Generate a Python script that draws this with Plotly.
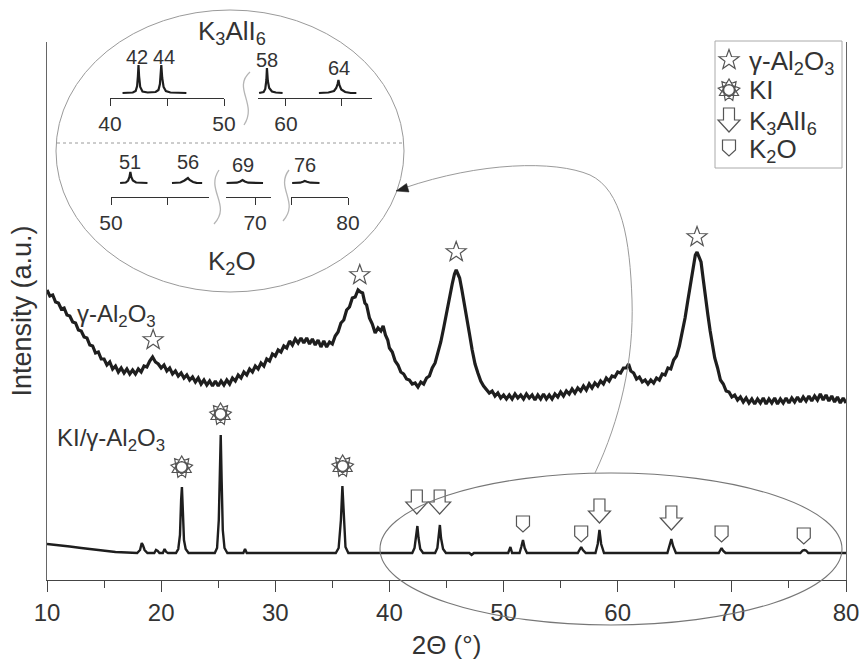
import math
import plotly.graph_objects as go

# ---------------- data ----------------
al2o3_x = [10.0, 10.25, 10.5, 10.75, 11.0, 11.25, 11.5, 11.75, 12.0, 12.25, 12.5, 12.75, 13.0, 13.25, 13.5, 13.75,
           14.0, 14.25, 14.5, 14.75, 15.0, 15.25, 15.5, 15.75, 16.0, 16.25, 16.5, 16.75, 17.0, 17.25, 17.5, 17.75,
           18.0, 18.25, 18.5, 18.75, 19.0, 19.25, 19.5, 19.75, 20.0, 20.25, 20.5, 20.75, 21.0, 21.25, 21.5, 21.75,
           22.0, 22.25, 22.5, 22.75, 23.0, 23.25, 23.5, 23.75, 24.0, 24.25, 24.5, 24.75, 25.0, 25.25, 25.5, 25.75,
           26.0, 26.25, 26.5, 26.75, 27.0, 27.25, 27.5, 27.75, 28.0, 28.25, 28.5, 28.75, 29.0, 29.25, 29.5, 29.75,
           30.0, 30.25, 30.5, 30.75, 31.0, 31.25, 31.5, 31.75, 32.0, 32.25, 32.5, 32.75, 33.0, 33.25, 33.5, 33.75,
           34.0, 34.25, 34.5, 34.75, 35.0, 35.25, 35.5, 35.75, 36.0, 36.25, 36.5, 36.75, 37.0, 37.25, 37.45, 37.65,
           37.85, 38.0, 38.25, 38.5, 38.75, 39.0, 39.25, 39.45, 39.65, 39.85, 40.0, 40.25, 40.5, 40.75, 41.0, 41.25,
           41.5, 41.75, 42.0, 42.25, 42.5, 42.75, 43.0, 43.25, 43.5, 43.75, 44.0, 44.25, 44.5, 44.75, 45.0, 45.25,
           45.5, 45.7, 45.85, 46.0, 46.15, 46.35, 46.55, 46.75, 47.0, 47.25, 47.5, 47.75, 48.0, 48.25, 48.5, 48.75,
           49.0, 49.25, 49.5, 49.75, 50.0, 50.25, 50.5, 50.75, 51.0, 51.25, 51.5, 51.75, 52.0, 52.25, 52.5, 52.75,
           53.0, 53.25, 53.5, 53.75, 54.0, 54.25, 54.5, 54.75, 55.0, 55.25, 55.5, 55.75, 56.0, 56.25, 56.5, 56.75,
           57.0, 57.25, 57.5, 57.75, 58.0, 58.25, 58.5, 58.75, 59.0, 59.25, 59.5, 59.75, 60.0, 60.25, 60.5, 60.75,
           60.95, 61.15, 61.4, 61.65, 61.9, 62.15, 62.4, 62.65, 62.9, 63.15, 63.4, 63.65, 63.9, 64.15, 64.4, 64.65,
           64.9, 65.15, 65.4, 65.65, 65.9, 66.15, 66.4, 66.6, 66.8, 66.95, 67.1, 67.3, 67.5, 67.7, 67.9, 68.1,
           68.3, 68.5, 68.75, 69.0, 69.25, 69.5, 69.75, 70.0, 70.25, 70.5, 70.75, 71.0, 71.25, 71.5, 71.75, 72.0,
           72.25, 72.5, 72.75, 73.0, 73.25, 73.5, 73.75, 74.0, 74.25, 74.5, 74.75, 75.0, 75.25, 75.5, 75.75, 76.0,
           76.25, 76.5, 76.75, 77.0, 77.25, 77.5, 77.75, 78.0, 78.25, 78.5, 78.75, 79.0, 79.25, 79.5, 79.75, 80.0]
al2o3_y = [290, 284, 285, 278, 277, 271, 272, 265, 264, 258, 257, 250, 249, 243, 242, 235,
           234, 227, 228, 221, 221, 215, 218, 211, 214, 208, 212, 207, 211, 206, 210, 206,
           211, 208, 214, 213, 219, 223, 218, 216, 212, 215, 209, 212, 206, 209, 204, 207,
           202, 205, 200, 203, 198, 202, 196, 200, 195, 199, 194, 199, 194, 199, 195, 200,
           196, 202, 199, 205, 202, 208, 205, 211, 208, 214, 211, 217, 214, 221, 219, 226,
           224, 230, 228, 234, 232, 239, 235, 241, 237, 242, 237, 242, 236, 241, 235, 240,
           233, 239, 233, 238, 236, 244, 248, 257, 260, 270, 273, 282, 283, 290, 288, 287,
           277, 275, 262, 256, 247, 252, 249, 254, 245, 240, 232, 228, 219, 215, 208, 206,
           201, 200, 196, 197, 193, 198, 196, 202, 204, 212, 217, 227, 238, 252, 268, 284,
           296, 306, 310, 306, 302, 290, 278, 262, 247, 230, 216, 207, 199, 194, 191, 187,
           189, 184, 187, 182, 185, 181, 185, 181, 186, 182, 185, 181, 186, 182, 185, 180,
           185, 181, 186, 181, 185, 181, 186, 183, 188, 184, 189, 186, 191, 187, 192, 189,
           194, 190, 196, 192, 197, 194, 199, 196, 202, 199, 204, 203, 208, 207, 212, 212,
           216, 209, 207, 201, 203, 198, 200, 196, 200, 197, 202, 200, 206, 205, 212, 211,
           220, 224, 234, 247, 262, 280, 298, 314, 325, 328, 324, 318, 300, 285, 265, 249,
           235, 222, 212, 200, 196, 189, 188, 183, 185, 180, 183, 178, 182, 177, 181, 176,
           181, 177, 182, 176, 181, 177, 182, 176, 181, 177, 182, 177, 182, 178, 183, 178,
           183, 179, 184, 179, 184, 180, 186, 180, 185, 179, 184, 178, 183, 177, 182, 177]

ki_x = [10.0, 11.0, 12.0, 13.0, 14.0, 15.0, 16.0, 17.0, 17.9, 18.15, 18.3, 18.4, 18.55, 18.8,
        19.4, 19.55, 19.7, 19.85, 20.15, 20.3, 20.45, 20.6,
        21.3, 21.5, 21.65, 21.75, 21.82, 21.9, 22.0, 22.15, 22.4,
        24.7, 24.9, 25.05, 25.15, 25.22, 25.3, 25.4, 25.55, 25.8,
        27.2, 27.35, 27.5,
        35.3, 35.55, 35.75, 35.88, 36.0, 36.15, 36.4,
        42.0, 42.2, 42.35, 42.45, 42.55, 42.7, 42.95,
        44.0, 44.2, 44.35, 44.42, 44.52, 44.7, 44.95,
        47.0, 47.2, 47.4,
        50.4, 50.6, 50.75,
        51.4, 51.55, 51.7, 51.85, 52.05,
        56.5, 56.7, 56.8, 56.95, 57.2,
        58.05, 58.25, 58.4, 58.55, 58.8,
        64.35, 64.55, 64.7, 64.85, 65.1,
        68.85, 69.0, 69.1, 69.25, 69.45,
        76.0, 76.2, 76.35, 76.5, 76.7,
        80.0]
ki_y = [36, 35, 33.5, 32, 30.5, 29, 28, 27.5, 27, 30, 37, 35, 30, 27,
        27, 30, 29, 27, 27, 31, 28, 27,
        27, 31, 45, 80, 93, 70, 40, 31, 27,
        27, 32, 60, 110, 145, 100, 50, 32, 27,
        27, 31, 27,
        27, 32, 60, 94, 60, 33, 27,
        27, 32, 45, 54, 42, 31, 27,
        27, 32, 46, 55, 42, 31, 27,
        27, 25, 27,
        27, 33, 27,
        27, 33, 40, 32, 27,
        27, 31, 33, 30, 27,
        27, 36, 50, 36, 27,
        27, 35, 41, 34, 27,
        27, 30, 32, 29, 27,
        27, 29.5, 30, 29.5, 27,
        27]

# phase markers: peak position and marker height
al2o3_mark_x = [19.3, 37.4, 45.85, 66.95]
al2o3_mark_y = [240, 305, 328, 343]
ki_mark_x = [21.8, 25.2, 35.9]
ki_mark_y = [113, 166, 114]
k3ali6_mark_x = [42.4, 44.4, 58.4, 64.7]
k3ali6_mark_y = [78, 78, 69, 62]
k2o_mark_x = [51.7, 56.8, 69.1, 76.3]
k2o_mark_y = [56, 46, 46, 44]

x_ticks = [10, 20, 30, 40, 50, 60, 70, 80]
x_minor = [15, 25, 35, 45, 55, 65, 75]

# inset: K3AlI6 (top) segments
ins_a1_x = [41.1, 42.0, 42.25, 42.38, 42.45, 42.5, 42.55, 42.65, 42.85, 43.3, 44.0, 44.25, 44.38, 44.45,
            44.5, 44.58, 44.7, 44.9, 45.3, 46.7]
ins_a1_y = [5, 5.5, 7, 12, 22, 33, 22, 11, 6.5, 5.5, 6, 8, 14, 23, 33, 20, 11, 7, 5.5, 5]
ins_a2_x = [57.6, 58.0, 58.15, 58.25, 58.3, 58.38, 58.5, 58.75, 59.1, 59.7]
ins_a2_y = [5, 6, 9, 18, 30, 17, 10, 6.5, 5.5, 5]
ins_a3_x = [62.95, 63.8, 64.3, 64.5, 64.62, 64.7, 64.78, 64.95, 65.3, 65.8, 66.3]
ins_a3_y = [5, 5.5, 7, 10, 14, 18, 13, 8.5, 6, 5, 5]
# inset: K2O (bottom) segments
ins_b1_x = [50.8, 51.3, 51.5, 51.62, 51.7, 51.78, 51.92, 52.2, 53.2]
ins_b1_y = [14, 14.5, 16.5, 20, 25, 20, 16.5, 14.5, 14]
ins_b2_x = [55.35, 56.1, 56.45, 56.65, 56.75, 56.9, 57.2, 57.5, 58.0]
ins_b2_y = [14, 14.5, 16.5, 18.5, 19, 17, 15, 14.2, 14]
ins_b3_x = [67.5, 68.4, 68.7, 68.9, 69.1, 69.4, 70.7]
ins_b3_y = [14, 14.3, 15.5, 17, 15.5, 14.3, 14]
ins_b4_x = [75.1, 75.8, 76.05, 76.2, 76.4, 76.7, 77.5]
ins_b4_y = [14, 14.3, 15.3, 16, 15.2, 14.3, 14]

# ---------------- layout helpers ----------------
W, H = 866, 671
PL, PR, PT, PB = 47, 846, 42, 580


def px(x):
    return (x - PL) / (PR - PL)


def py(y):
    return (PB - y) / (PB - PT)


def P(x, y):
    return f"{px(x):.5f},{py(y):.5f}"


SANS = "Liberation Sans, Arial, sans-serif"
TXT = "#333333"
SYM = "#555555"


def star_path(ro=10.5, ri=4.3, n=5):
    pts = []
    for k in range(2 * n):
        r = ro if k % 2 == 0 else ri
        a = math.pi / 2 + k * math.pi / n
        pts.append(f"{r*math.cos(a):.2f},{r*math.sin(a):.2f}")
    return "M" + "L".join(pts) + "Z"


def ki_path(r=11.0, rc=5.3):
    parts = []
    for rot in (0, 40, 80):
        pts = []
        for k in range(3):
            a = math.radians(90 + rot + 120 * k)
            pts.append(f"{r*math.cos(a):.2f},{r*math.sin(a):.2f}")
        parts.append("M" + "L".join(pts) + "Z")
    pts = []
    for k in range(24):
        a = 2 * math.pi * k / 24
        pts.append(f"{rc*math.cos(a):.2f},{rc*math.sin(a):.2f}")
    parts.append("M" + "L".join(pts) + "Z")
    return " ".join(parts)


ARROW = "M-5.5,12L5.5,12L5.5,0L11,0L0,-12L-11,0L-5.5,0Z"
HOUSE = "M-6.5,8L6.5,8L6.5,-2L0,-8L-6.5,-2Z"


def sym_shape(path, xa, ya, ref=("x", "y")):
    return dict(type="path", path=path, xref=ref[0], yref=ref[1], xsizemode="pixel", ysizemode="pixel",
                xanchor=xa, yanchor=ya, line=dict(color=SYM, width=1.2), fillcolor="rgba(255,255,255,0)",
                layer="above")


fig = go.Figure()

fig.add_trace(go.Scatter(x=al2o3_x, y=al2o3_y, mode="lines", line=dict(color="#1e1e1e", width=3.2),
                         name="γ-Al2O3", hoverinfo="skip"))
fig.add_trace(go.Scatter(x=ki_x, y=ki_y, mode="lines", line=dict(color="#1e1e1e", width=2.4),
                         name="KI/γ-Al2O3", hoverinfo="skip"))

inset_line = dict(color="#1e1e1e", width=2.2)
for xs, ys, xa, ya in [(ins_a1_x, ins_a1_y, "x2", "y2"), (ins_a2_x, ins_a2_y, "x3", "y2"),
                       (ins_a3_x, ins_a3_y, "x3", "y2"), (ins_b1_x, ins_b1_y, "x4", "y3"),
                       (ins_b2_x, ins_b2_y, "x4", "y3"), (ins_b3_x, ins_b3_y, "x5", "y3"),
                       (ins_b4_x, ins_b4_y, "x6", "y3")]:
    fig.add_trace(go.Scatter(x=xs, y=ys, xaxis=xa, yaxis=ya, mode="lines", line=inset_line,
                             hoverinfo="skip", showlegend=False))

shapes = []
for xv, yv in zip(al2o3_mark_x, al2o3_mark_y):
    shapes.append(sym_shape(star_path(), xv, yv))
for xv, yv in zip(ki_mark_x, ki_mark_y):
    shapes.append(sym_shape(ki_path(), xv, yv))
for xv, yv in zip(k3ali6_mark_x, k3ali6_mark_y):
    shapes.append(sym_shape(ARROW, xv, yv))
for xv, yv in zip(k2o_mark_x, k2o_mark_y):
    shapes.append(sym_shape(HOUSE, xv, yv))

# legend box + symbols
shapes.append(dict(type="rect", xref="paper", yref="paper", x0=px(715), x1=px(842), y0=py(168), y1=py(41),
                   line=dict(color="#aaaaaa", width=1)))
for path, yy in [(star_path(), 60), (ki_path(), 90), (ARROW, 120), (HOUSE, 148)]:
    shapes.append(sym_shape(path, px(729), py(yy), ref=("paper", "paper")))

# inset ellipse, separator, breaks, lower ellipse, connector
GR = "#9a9a9a"
shapes.append(dict(type="circle", xref="paper", yref="paper", x0=px(56), x1=px(404), y0=py(292), y1=py(10),
                   line=dict(color=GR, width=1)))
shapes.append(dict(type="line", xref="paper", yref="paper", x0=px(57), x1=px(403), y0=py(143), y1=py(143),
                   line=dict(color=GR, width=1, dash="dot")))
for a, b, c, d in [((250, 72), (232, 88), (258, 104), (244, 125)),
                   ((219, 170), (205, 190), (232, 205), (214, 224)),
                   ((289, 170), (275, 188), (300, 202), (283, 221))]:
    shapes.append(dict(type="path", xref="paper", yref="paper",
                       path=f"M{P(*a)} C{P(*b)} {P(*c)} {P(*d)}",
                       line=dict(color="#b5b5b5", width=1.3)))
shapes.append(dict(type="circle", xref="paper", yref="paper", x0=px(380), x1=px(842), y0=py(625), y1=py(473),
                   line=dict(color="#777777", width=1.1)))
shapes.append(dict(type="path", xref="paper", yref="paper",
                   path=(f"M{P(595,473)} C{P(620,420)} {P(634,360)} {P(632,300)} "
                         f"C{P(630,240)} {P(622,190)} {P(590,175)} "
                         f"C{P(555,160)} {P(480,162)} {P(404,188)}"),
                   line=dict(color=GR, width=1)))
shapes.append(dict(type="path", xref="paper", yref="paper",
                   path=f"M{P(396,191)} L{P(409,192)} L{P(406.5,183.5)} Z",
                   line=dict(color="#222222", width=0.5), fillcolor="#222222"))

ann = []


def add_text(text, x, y, size, anchor="center"):
    ann.append(dict(text=text, x=px(x), y=py(y), xref="paper", yref="paper", showarrow=False,
                    xanchor=anchor, yanchor="middle", font=dict(family=SANS, size=size, color=TXT)))


add_text("K<sub>3</sub>AlI<sub>6</sub>", 232, 32, 26)
add_text("K<sub>2</sub>O", 232, 262, 26)
for t, x, y in [("42", 137, 57), ("44", 164, 57), ("58", 267, 60), ("64", 339, 68),
                ("51", 130, 162), ("56", 188, 162), ("69", 243, 165), ("76", 305, 165)]:
    add_text(t, x, y, 20)
add_text("γ-Al<sub>2</sub>O<sub>3</sub>", 75, 315, 24, "left")
add_text("KI/γ-Al<sub>2</sub>O<sub>3</sub>", 55, 439, 24, "left")
for t, yy in [("γ-Al<sub>2</sub>O<sub>3</sub>", 62), ("KI", 90), ("K<sub>3</sub>AlI<sub>6</sub>", 122),
              ("K<sub>2</sub>O", 150)]:
    add_text(t, 747, yy, 26, "left")

fig.update_layout(
    width=W, height=H,
    margin=dict(l=PL, r=W - PR, t=PT, b=H - PB, autoexpand=False),
    plot_bgcolor="white", paper_bgcolor="white", showlegend=False,
    shapes=shapes, annotations=ann,
    xaxis=dict(range=[10, 80], tickvals=x_ticks, ticks="outside", ticklen=11, tickwidth=1.2, tickcolor="#444",
               showline=True, linecolor="#444", linewidth=1.3, showgrid=False, zeroline=False,
               minor=dict(tickvals=x_minor, ticks="outside", ticklen=7, tickwidth=1.2, tickcolor="#444"),
               tickfont=dict(family=SANS, size=24, color=TXT),
               title=dict(text="2Θ (°)", font=dict(family=SANS, size=26, color=TXT), standoff=10)),
    yaxis=dict(range=[0, 538], showline=True, mirror=True, linecolor="#666", linewidth=1.3,
               showticklabels=False, ticks="", showgrid=False, zeroline=False,
               title=dict(text="Intensity (a.u.)", font=dict(family=SANS, size=27, color=TXT), standoff=6)),
)

inset_ax = dict(showline=True, linecolor="#333", linewidth=1.2, ticks="outside", ticklen=7, tickwidth=1.2,
                tickcolor="#333", showgrid=False, zeroline=False, tickfont=dict(family=SANS, size=21, color=TXT))
fig.update_layout(
    xaxis2=dict(inset_ax, domain=[px(110), px(224)], range=[40, 50], anchor="y2",
                tickvals=[40, 45, 50], ticktext=["40", "", "50"]),
    xaxis3=dict(inset_ax, domain=[px(258), px(372)], range=[57.5, 67.7], anchor="y2",
                tickvals=[60, 65], ticktext=["60", ""]),
    yaxis2=dict(domain=[py(98), py(58)], range=[0, 40], anchor="x2", visible=False),
    xaxis4=dict(inset_ax, domain=[px(111), px(209)], range=[50, 58.6], anchor="y3",
                tickvals=[50, 55], ticktext=["50", ""]),
    xaxis5=dict(inset_ax, domain=[px(226), px(271)], range=[67.45, 71.4], anchor="y3",
                tickvals=[70], ticktext=["70"]),
    xaxis6=dict(inset_ax, domain=[px(291), px(348)], range=[75, 80], anchor="y3",
                tickvals=[75, 80], ticktext=["", "80"]),
    yaxis3=dict(domain=[py(197), py(157)], range=[0, 40], anchor="x4", visible=False),
)

fig.write_html("out.html")
